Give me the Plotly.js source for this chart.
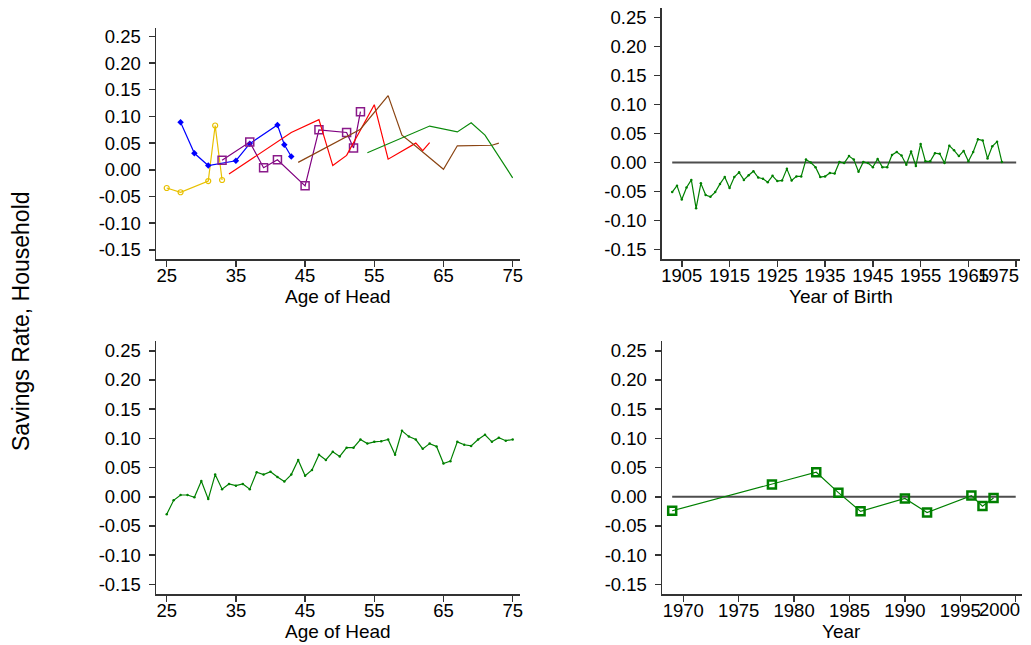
<!DOCTYPE html>
<html>
<head>
<meta charset="utf-8">
<script src="https://cdn.plot.ly/plotly-3.0.1.min.js"></script>
<style>
  html, body { margin: 0; padding: 0; background: #ffffff; }
  #chart { width: 1031px; height: 645px; }
</style>
</head>
<body>
<div id="chart"></div>
<script>
// ---- Cohort profiles by age of household head (one line per birth cohort) ----
const ageGold   = [25, 27, 31, 32, 33];
const rateGold  = [-0.034, -0.042, -0.021, 0.083, -0.019];

const ageBlue   = [27, 29, 31, 35, 37, 41, 42, 43];
const rateBlue  = [0.089, 0.031, 0.008, 0.017, 0.049, 0.084, 0.047, 0.025];

const agePurple  = [33, 37, 39, 41, 45, 47, 51, 52, 53];
const ratePurple = [0.018, 0.052, 0.004, 0.019, -0.030, 0.075, 0.070, 0.041, 0.109];

const ageRed    = [34, 43, 47, 49, 51, 55, 57, 61, 62, 63];
const rateRed   = [-0.008, 0.070, 0.094, 0.008, 0.027, 0.122, 0.020, 0.050, 0.036, 0.051];

const ageBrown  = [44, 53, 57, 59, 61, 65, 67, 71, 72, 73];
const rateBrown = [0.014, 0.076, 0.139, 0.065, 0.044, 0.001, 0.045, 0.046, 0.046, 0.050];

const ageGreen  = [54, 63, 67, 69, 71, 75];
const rateGreen = [0.032, 0.082, 0.071, 0.088, 0.065, -0.015];

// ---- Cohort effects by year of birth ----
const birthYear = [1903, 1904, 1905, 1906, 1907, 1908, 1909, 1910, 1911, 1912,
                   1913, 1914, 1915, 1916, 1917, 1918, 1919, 1920, 1921, 1922,
                   1923, 1924, 1925, 1926, 1927, 1928, 1929, 1930, 1931, 1932,
                   1933, 1934, 1935, 1936, 1937, 1938, 1939, 1940, 1941, 1942,
                   1943, 1944, 1945, 1946, 1947, 1948, 1949, 1950, 1951, 1952,
                   1953, 1954, 1955, 1956, 1957, 1958, 1959, 1960, 1961, 1962,
                   1963, 1964, 1965, 1966, 1967, 1968, 1969, 1970, 1971, 1972];
const rateBirth = [-0.051, -0.040, -0.064, -0.043, -0.030, -0.079, -0.036, -0.056, -0.059, -0.051,
                   -0.037, -0.025, -0.044, -0.025, -0.017, -0.030, -0.022, -0.015, -0.026, -0.028,
                   -0.034, -0.023, -0.032, -0.031, -0.011, -0.031, -0.024, -0.024, 0.005, 0.000,
                   -0.008, -0.025, -0.024, -0.018, -0.019, 0.001, -0.001, 0.011, 0.005, -0.016,
                   0.001, -0.001, -0.008, 0.006, -0.008, -0.008, 0.013, 0.018, 0.012, -0.004,
                   0.019, -0.006, 0.032, 0.002, 0.002, 0.016, 0.015, -0.001, 0.029, 0.021,
                   0.011, 0.020, 0.002, 0.018, 0.040, 0.038, 0.007, 0.028, 0.036, 0.001];
const birthZeroX = [1903, 1975];

// ---- Age effects ----
const ageAll  = [25, 26, 27, 28, 29, 30, 31, 32, 33, 34, 35, 36, 37, 38, 39, 40, 41,
                 42, 43, 44, 45, 46, 47, 48, 49, 50, 51, 52, 53, 54, 55, 56, 57, 58,
                 59, 60, 61, 62, 63, 64, 65, 66, 67, 68, 69, 70, 71, 72, 73, 74, 75];
const rateAge = [-0.030, -0.006, 0.003, 0.003, -0.001, 0.027, -0.004, 0.038, 0.013, 0.022, 0.019, 0.022, 0.013, 0.042, 0.038, 0.043, 0.034,
                 0.026, 0.038, 0.063, 0.036, 0.046, 0.072, 0.063, 0.077, 0.069, 0.084, 0.084, 0.098, 0.091, 0.094, 0.095, 0.098, 0.072,
                 0.113, 0.103, 0.098, 0.082, 0.091, 0.086, 0.057, 0.061, 0.094, 0.089, 0.087, 0.098, 0.106, 0.094, 0.101, 0.096, 0.098];

// ---- Time effects by survey year ----
const surveyYear = [1969, 1978, 1982, 1984, 1986, 1990, 1992, 1996, 1997, 1998];
const rateYear   = [-0.024, 0.021, 0.042, 0.007, -0.025, -0.003, -0.027, 0.002, -0.016, -0.002];
const yearZeroX  = [1969, 2000];

// ---- Tick labels ----
const rateTicks    = [-0.15, -0.10, -0.05, 0.00, 0.05, 0.10, 0.15, 0.20, 0.25];
const rateTickText = ['-0.15', '-0.10', '-0.05', '0.00', '0.05', '0.10', '0.15', '0.20', '0.25'];
const ageTicks   = [25, 35, 45, 55, 65, 75];
const birthTicks = [1905, 1915, 1925, 1935, 1945, 1955, 1965, 1975];
const yearTicks  = [1970, 1975, 1980, 1985, 1990, 1995, 2000];

const FONT = '"Liberation Sans", Arial, Helvetica, sans-serif';
const W = 1031, H = 645;
const GREEN = '#008000';
const TICK_SIZE = 18.5;

// pixel boxes -> paper fractions
const px = (a, b) => [a / W, b / W];
const py = (top, bottom) => [1 - bottom / H, 1 - top / H];

function line(x, y, color, xa, ya, extra) {
  return Object.assign({
    x: x, y: y, xaxis: xa, yaxis: ya, type: 'scatter', mode: 'lines',
    line: { color: color, width: 1.2 }, hoverinfo: 'skip'
  }, extra || {});
}

const traces = [
  line(ageGold, rateGold, '#e8c000', 'x', 'y',
       { mode: 'lines+markers', marker: { symbol: 'circle-open', size: 5, color: '#e8c000', line: { width: 1.2 } } }),
  line(ageBlue, rateBlue, '#0000ff', 'x', 'y',
       { mode: 'lines+markers', marker: { symbol: 'diamond', size: 5, color: '#0000ff' } }),
  line(agePurple, ratePurple, '#800080', 'x', 'y',
       { mode: 'lines+markers', marker: { symbol: 'square-open', size: 8, color: '#8a1a8a', line: { width: 1.5 } } }),
  line(ageRed, rateRed, '#ff0000', 'x', 'y'),
  line(ageBrown, rateBrown, '#8b4513', 'x', 'y'),
  line(ageGreen, rateGreen, '#0a8a0a', 'x', 'y'),

  line(birthZeroX, [0, 0], '#4d4d4d', 'x2', 'y2', { line: { color: '#4d4d4d', width: 1.8 } }),
  line(birthYear, rateBirth, GREEN, 'x2', 'y2',
       { mode: 'lines+markers', marker: { symbol: 'circle', size: 2.5, color: GREEN } }),

  line(ageAll, rateAge, GREEN, 'x3', 'y3',
       { mode: 'lines+markers', marker: { symbol: 'circle', size: 2.5, color: GREEN } }),

  line(yearZeroX, [0, 0], '#4d4d4d', 'x4', 'y4', { line: { color: '#4d4d4d', width: 1.8 } }),
  line(surveyYear, rateYear, GREEN, 'x4', 'y4',
       { mode: 'lines+markers', marker: { symbol: 'square-open', size: 8, color: GREEN, line: { width: 2.5 } } })
];

function axisBase() {
  return {
    showline: true, linecolor: '#333333', linewidth: 1.5,
    ticks: 'outside', ticklen: 6, tickwidth: 1.5, tickcolor: '#333333',
    showgrid: false, zeroline: false, fixedrange: true,
    ticklabeloverflow: 'allow',
    tickfont: { family: FONT, size: TICK_SIZE, color: '#000000' }
  };
}
function yAxis(domain, anchor) {
  return Object.assign(axisBase(), {
    domain: domain, anchor: anchor, range: [-0.167, 0.266],
    tickmode: 'array', tickvals: rateTicks, ticktext: rateTickText,
    ticklabelstandoff: 4
  });
}
// the last label of the two year axes is pulled inside the page edge (drawn as an annotation)
function xAxis(domain, anchor, range, ticks, edgeLabel) {
  const text = ticks.map(String);
  if (edgeLabel) text[text.length - 1] = '';
  return Object.assign(axisBase(), {
    domain: domain, anchor: anchor, range: range,
    tickmode: 'array', tickvals: ticks, ticktext: text,
    tickangle: 0, ticklabelstandoff: -7
  });
}

const titleFont = { family: FONT, size: 19, color: '#000000' };
function xTitle(text, xref, yPix) {
  return { text: text, xref: xref, x: 0.5, yref: 'paper', y: 1 - yPix / H,
           xanchor: 'center', yanchor: 'middle', showarrow: false, font: titleFont };
}
function edgeTick(text, rightPix, yPix) {
  return { text: text, xref: 'paper', x: rightPix / W, yref: 'paper', y: 1 - yPix / H,
           xanchor: 'right', yanchor: 'middle', showarrow: false,
           font: { family: FONT, size: TICK_SIZE, color: '#000000' } };
}

const layout = {
  width: W, height: H,
  margin: { l: 0, r: 0, t: 0, b: 0 },
  paper_bgcolor: '#ffffff', plot_bgcolor: '#ffffff',
  showlegend: false,
  xaxis:  xAxis(px(156, 520),   'y',  [23.45, 76.06],    ageTicks, false),
  yaxis:  yAxis(py(27.8, 259),  'x'),
  xaxis2: xAxis(px(661.7, 1020),'y2', [1900.8, 1975.8],  birthTicks, true),
  yaxis2: yAxis(py(8.3, 259.3), 'x2'),
  xaxis3: xAxis(px(156, 520),   'y3', [23.45, 76.06],    ageTicks, false),
  yaxis3: yAxis(py(341.4, 594.3), 'x3'),
  xaxis4: xAxis(px(662, 1021.7),'y4', [1968.08, 2000.54], yearTicks, true),
  yaxis4: yAxis(py(341.4, 594.3), 'x4'),
  annotations: [
    xTitle('Age of Head', 'x domain', 296),
    xTitle('Year of Birth', 'x2 domain', 296),
    xTitle('Age of Head', 'x3 domain', 631),
    xTitle('Year', 'x4 domain', 631),
    edgeTick(String(birthTicks[birthTicks.length - 1]), 1021, 275),
    edgeTick(String(yearTicks[yearTicks.length - 1]), 1022, 609),
    { text: 'Savings Rate, Household', xref: 'paper', yref: 'paper',
      x: 21 / W, y: 1 - 321 / H, xanchor: 'center', yanchor: 'middle',
      textangle: -90, showarrow: false, font: { family: FONT, size: 23, color: '#000000' } }
  ]
};

Plotly.newPlot('chart', traces, layout, { displayModeBar: false, staticPlot: true });
</script>
</body>
</html>
